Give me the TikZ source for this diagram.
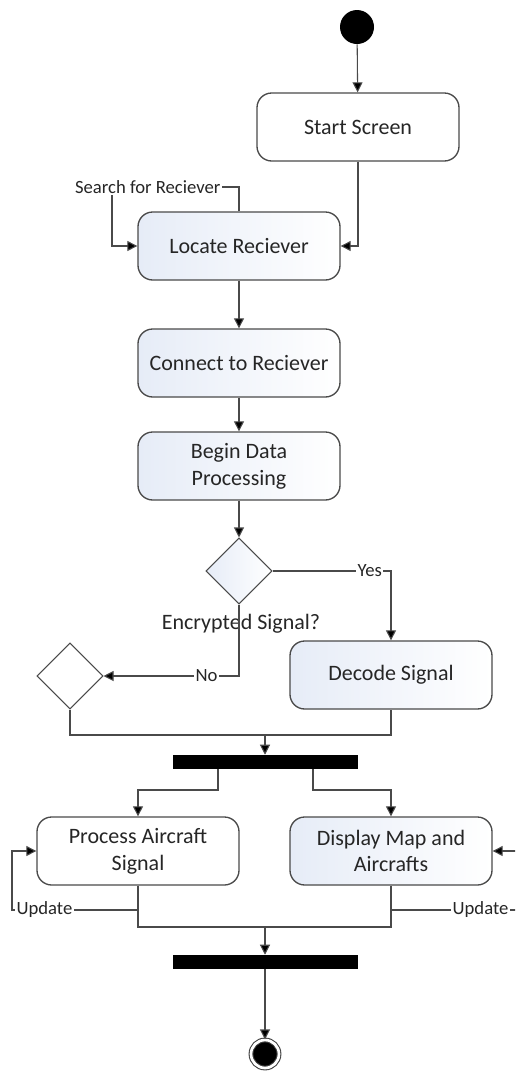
\documentclass[tikz,border=0pt]{standalone}
\usepackage{fontspec}
\setmainfont{Carlito}
\usetikzlibrary{arrows.meta,shapes.geometric}

\definecolor{edgegray}{HTML}{4A4A4A}
\definecolor{boxtint}{HTML}{E6ECF7}

\tikzset{
  act/.style={draw=edgegray, line width=1pt, rounded corners=11pt, fill=white,
    minimum width=151.5pt, minimum height=51pt, align=center,
    font=\fontsize{16.5}{20}\selectfont, text=black!85},
  actg/.style={act, left color=boxtint, right color=white},
  choice/.style={diamond, draw=edgegray, line width=0.8pt, aspect=1,
    minimum width=49.5pt, minimum height=49.5pt, inner sep=0pt},
  bar/.style={rectangle, fill=black, minimum width=138.75pt, minimum height=10.5pt, inner sep=0pt},
  lbl/.style={fill=white, inner sep=1pt, font=\fontsize{14}{16}\selectfont, text=black!85},
  flow/.style={draw=edgegray, line width=0.8pt, -{Triangle[length=7.5pt,width=7.5pt,fill=black]}},
  wire/.style={draw=edgegray, line width=0.8pt}
}

\begin{document}
\begin{tikzpicture}[x=0.75pt, y=-0.75pt]
\useasboundingbox (0,0) rectangle (515,1072);
\clip (0,0) rectangle (515,1072);

% activities
\node[circle, fill=black, minimum size=25.5pt, inner sep=0pt] (init) at (357,27) {};
\node[act] (start) at (358,127) {Start Screen};
\node[actg] (locate) at (239,246) {Locate Reciever};
\node[actg] (connect) at (239,363) {Connect to Reciever};
\node[actg] (begin) at (239,466) {Begin Data\\Processing};
\node[choice, left color=boxtint, right color=white] (decide) at (239,571) {};
\node[font=\fontsize{16.5}{20}\selectfont, text=black!85] (ask) at (241,624) {Encrypted Signal?};
\node[actg] (decode) at (391,675) {Decode Signal};
\node[choice, fill=white] (merge) at (70,676) {};
\node[bar] (forkA) at (265,762) {};
\node[act] (process) at (138,851) {Process Aircraft\\Signal};
\node[actg] (display) at (391,851) {Display Map and\\Aircrafts};
\node[bar] (join) at (265,962) {};
\node[circle, fill=black, draw=black!75, line width=0.8pt, double=white, double distance=2pt,
  minimum size=21pt, inner sep=0pt] (final) at (265,1054) {};

% connectors
\coordinate (loopL) at (112,187);
\coordinate (mj) at (265,735);
\coordinate (upL) at (12,910);
\coordinate (upR) at (522,910);
\coordinate (jj) at (265,927);

\draw[flow] (init) -- (start);
\draw[flow] (start.south) |- (locate.east);
\draw[flow] (locate.north) |- (loopL) |- (locate.west);
\node[lbl, anchor=east] (search) at (222,187) {Search for Reciever};
\draw[flow] (locate) -- (connect);
\draw[flow] (connect) -- (begin);
\draw[flow] (begin) -- (decide);
\draw[flow] (decide.east) -| (decode.north) node[lbl, pos=0.41] (yes) {Yes};
\draw[flow] (decide.south) |- (merge.east) node[lbl, pos=0.62] (no) {No};
\draw[wire] (merge.south) |- (mj) -| (decode.south);
\draw[flow] (mj) -- (forkA);

\draw[flow] (218,0 |- forkA.south) -- (218,790) -| (process.north);
\draw[flow] (313,0 |- forkA.south) -- (313,790) -| (display.north);

\draw[flow] (process.south) |- (upL) |- (process.west);
\node[lbl, anchor=west] (updL) at (15,910) {Update};
\draw[flow] (display.south) |- (upR) |- (display.east);
\node[lbl, anchor=east] (updR) at (510,910) {Update};

\draw[wire] (process.south) |- (jj) -| (display.south);
\draw[flow] (jj) -- (join);
\draw[flow] (join) -- (final);
\end{tikzpicture}
\end{document}
